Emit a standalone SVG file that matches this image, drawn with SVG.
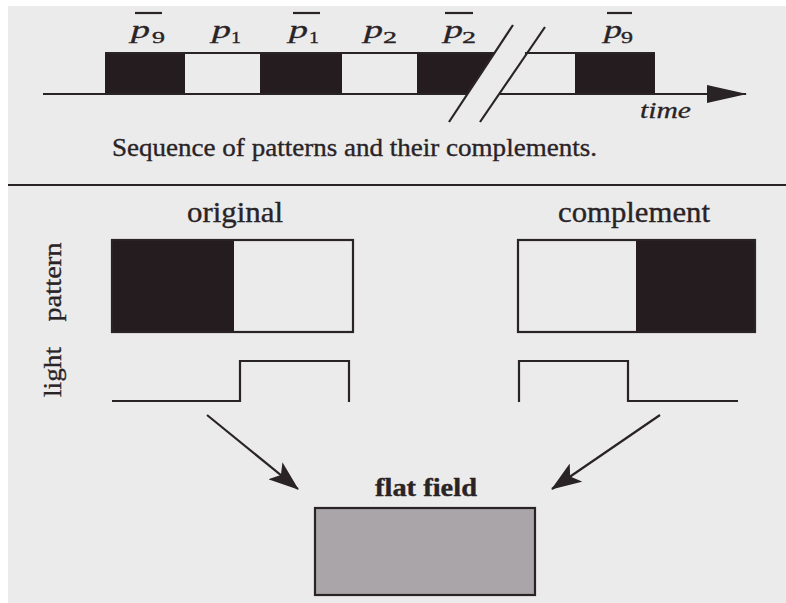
<svg xmlns="http://www.w3.org/2000/svg" width="786" height="603" viewBox="0 0 786 603">
<style>
  .ln{fill:none;stroke:#2a2326;stroke-width:2.2}
  .blk{fill:#241c1e}
  .ff{fill:#a9a5a8;stroke:#2a2326;stroke-width:2.2}
  .rm{font-family:"Liberation Serif","Times New Roman",serif;fill:#2a2326;stroke:#2a2326;stroke-width:0.35}
  .it{font-family:"Liberation Serif","Times New Roman",serif;font-style:italic;fill:#2a2326;stroke:#2a2326;stroke-width:0.3}
</style>
<defs>
  <marker id="ah" viewBox="0 0 30 22" refX="29" refY="11" markerWidth="30" markerHeight="22" markerUnits="userSpaceOnUse" orient="auto">
    <path d="M0,0 L30,11 L0,22 L7,11 Z" fill="#2a2326"/>
  </marker>
  <marker id="ahT" viewBox="0 0 40 18" refX="39" refY="9" markerWidth="40" markerHeight="18" markerUnits="userSpaceOnUse" orient="auto">
    <path d="M0,0 L40,9 L0,18 Z" fill="#2a2326"/>
  </marker>
</defs>
<rect width="786" height="603" fill="#ffffff"/>
<rect x="8" y="6" width="778" height="597" fill="#ebebeb"/>

<g id="timeline">
  <rect class="blk" x="105" y="53" width="80" height="41"/>
  <rect class="blk" x="260" y="53" width="82" height="41"/>
  <polygon class="blk" points="417,53 494,53 467,94 417,94"/>
  <rect class="blk" x="575" y="53" width="80" height="41"/>
  <line class="ln" x1="105" y1="53" x2="494" y2="53"/>
  <line class="ln" x1="525" y1="53" x2="655" y2="53"/>
  <line class="ln" x1="43" y1="94" x2="468" y2="94"/>
  <line class="ln" x1="499" y1="94" x2="746" y2="94" marker-end="url(#ahT)"/>
  <line class="ln" x1="449" y1="122" x2="513" y2="25"/>
  <line class="ln" x1="480" y1="122" x2="545" y2="27"/>
</g>

<g id="labels-top">
  <line class="ln" x1="135" y1="13" x2="162" y2="13"/>
  <text class="it" x="131" y="38" font-size="25" textLength="19" lengthAdjust="spacingAndGlyphs">p</text>
  <text class="rm" x="152" y="43" font-size="17" textLength="13" lengthAdjust="spacingAndGlyphs">9</text>

  <text class="it" x="212" y="38" font-size="25" textLength="19" lengthAdjust="spacingAndGlyphs">p</text>
  <text class="rm" x="231" y="43" font-size="17" textLength="10" lengthAdjust="spacingAndGlyphs">1</text>

  <line class="ln" x1="293" y1="13" x2="320" y2="13"/>
  <text class="it" x="289" y="38" font-size="25" textLength="19" lengthAdjust="spacingAndGlyphs">p</text>
  <text class="rm" x="309" y="43" font-size="17" textLength="10" lengthAdjust="spacingAndGlyphs">1</text>

  <text class="it" x="364" y="38" font-size="25" textLength="19" lengthAdjust="spacingAndGlyphs">p</text>
  <text class="rm" x="383" y="43" font-size="17" textLength="14" lengthAdjust="spacingAndGlyphs">2</text>

  <line class="ln" x1="445" y1="13" x2="473" y2="13"/>
  <text class="it" x="444" y="38" font-size="25" textLength="19" lengthAdjust="spacingAndGlyphs">p</text>
  <text class="rm" x="462" y="43" font-size="17" textLength="14" lengthAdjust="spacingAndGlyphs">2</text>

  <line class="ln" x1="607" y1="13" x2="632" y2="13"/>
  <text class="it" x="604" y="38" font-size="25" textLength="18" lengthAdjust="spacingAndGlyphs">p</text>
  <text class="rm" x="621" y="43" font-size="17" textLength="12" lengthAdjust="spacingAndGlyphs">9</text>

  <text class="it" x="640" y="118" font-size="24" textLength="51" lengthAdjust="spacingAndGlyphs">time</text>
  <text class="rm" x="112" y="156" font-size="26" textLength="485" lengthAdjust="spacingAndGlyphs">Sequence of patterns and their complements.</text>
</g>

<line class="ln" x1="8" y1="185" x2="786" y2="185"/>

<g id="side-labels">
  <text class="rm" font-size="26" text-anchor="middle" transform="translate(61,282) rotate(-90)" textLength="79" lengthAdjust="spacingAndGlyphs">pattern</text>
  <text class="rm" font-size="26" text-anchor="middle" transform="translate(61,372) rotate(-90)" textLength="50" lengthAdjust="spacingAndGlyphs">light</text>
</g>

<g id="original">
  <text class="rm" x="187" y="222" font-size="29" textLength="96" lengthAdjust="spacingAndGlyphs">original</text>
  <rect class="blk" x="112" y="240" width="122" height="92"/>
  <rect class="ln" x="112" y="240" width="241" height="92"/>
  <polyline class="ln" points="112,401 240,401 240,361 349,361 349,402"/>
</g>

<g id="complement">
  <text class="rm" x="558" y="222" font-size="29" textLength="152" lengthAdjust="spacingAndGlyphs">complement</text>
  <rect class="blk" x="636" y="240" width="119" height="92"/>
  <rect class="ln" x="518" y="240" width="237" height="92"/>
  <polyline class="ln" points="519,402 519,361 628,361 628,401 738,401"/>
</g>

<g id="connectors">
  <line class="ln" stroke-width="2" x1="207" y1="415" x2="298" y2="489" marker-end="url(#ah)"/>
  <line class="ln" stroke-width="2" x1="660" y1="415" x2="552" y2="489" marker-end="url(#ah)"/>
</g>

<g id="flat-field">
  <text class="rm" x="375" y="496" font-size="25" font-weight="bold" textLength="102" lengthAdjust="spacingAndGlyphs">flat field</text>
  <rect class="ff" x="315" y="508" width="220" height="87"/>
</g>
</svg>
